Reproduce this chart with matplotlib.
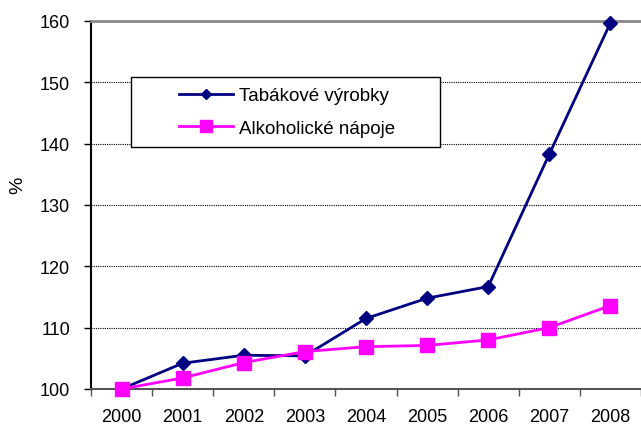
import matplotlib
matplotlib.use('Agg')
import matplotlib.pyplot as plt
from matplotlib.patches import Rectangle

plt.rcParams['font.family'] = ['Liberation Sans', 'DejaVu Sans']

years = ['2000', '2001', '2002', '2003', '2004', '2005', '2006', '2007', '2008']
tabak = [100.0, 104.2, 105.5, 105.4, 111.5, 114.8, 116.7, 138.3, 159.7]
alkohol = [100.0, 101.8, 104.3, 106.1, 106.9, 107.1, 108.0, 110.0, 113.6]

fig = plt.figure(figsize=(6.41, 4.27), dpi=100)
ax = fig.add_axes([0.142, 0.0867, 0.858, 0.8618])

x = range(len(years))
ax.plot(x, tabak, color='#000080', lw=2, marker='D', ms=7,
        label='Tabákové výrobky', clip_on=False, zorder=3)
ax.plot(x, alkohol, color='#ff00ff', lw=2, marker='s', ms=10,
        label='Alkoholické nápoje', clip_on=False, zorder=3)

ax.set_xlim(-0.5, len(years) - 0.5)
ax.set_ylim(100, 160)
ax.set_yticks(range(100, 161, 10))
ax.set_xticks(list(x))
ax.set_xticklabels(years)
ax.set_xticks([i - 0.5 for i in range(len(years) + 1)], minor=True)
ax.tick_params(axis='x', which='major', length=0, pad=14, labelsize=13)
ax.tick_params(axis='x', which='minor', length=5, width=1, color='#555555')
ax.tick_params(axis='y', length=5, width=1, pad=10, labelsize=13)

for v in range(110, 160, 10):
    ax.axhline(v, color='black', lw=0.8, ls=(0, (1, 1)), zorder=0)

ax.spines['right'].set_visible(False)
ax.spines['top'].set_color('#888888')
ax.spines['top'].set_linewidth(2)
ax.spines['left'].set_linewidth(1.5)
ax.spines['bottom'].set_color('#555555')
ax.spines['bottom'].set_linewidth(1.5)

fig.text(18 / 641, 1 - 185 / 427, '%', rotation=90, fontsize=14,
         ha='center', va='center')

# legend frame drawn by hand, entries centred inside it
ax.add_patch(Rectangle((0.073, 0.658), 0.562, 0.19, transform=ax.transAxes,
                       facecolor='white', edgecolor='black', lw=1, zorder=4))
leg = ax.legend(loc='center', bbox_to_anchor=(0.356, 0.753), fontsize=13.5,
                frameon=False, handlelength=2.9, handletextpad=0.3,
                markerscale=0.8, labelspacing=0.8)
leg.set_zorder(5)

fig.savefig('out.png', dpi=100)
